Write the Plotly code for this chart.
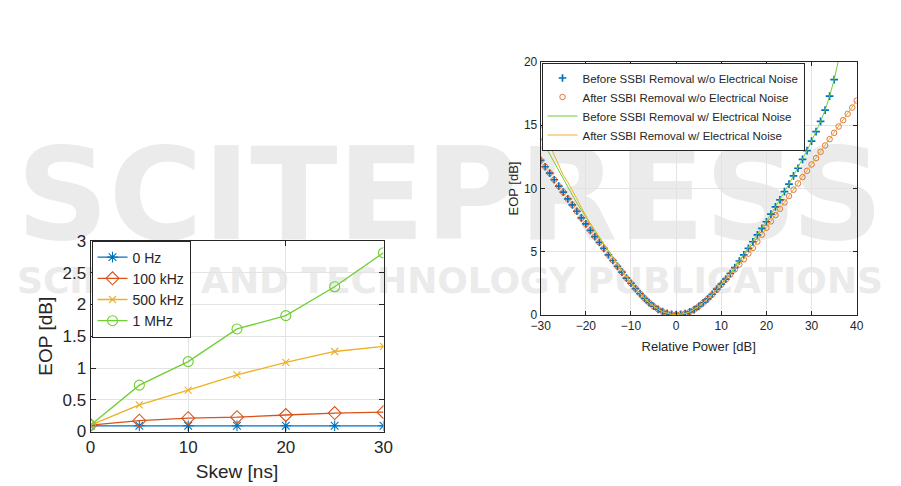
import plotly.graph_objects as go

# ---------------- Left chart: EOP vs skew ----------------
skew_ns = [0, 5, 10, 15, 20, 25, 30]
eop_0hz = [0.09, 0.09, 0.09, 0.09, 0.09, 0.09, 0.09]
eop_100khz = [0.10, 0.17, 0.21, 0.225, 0.26, 0.29, 0.305]
eop_500khz = [0.10, 0.42, 0.65, 0.89, 1.09, 1.26, 1.34]
eop_1mhz = [0.10, 0.73, 1.10, 1.615, 1.825, 2.28, 2.815]
left_names = ["0 Hz", "100 kHz", "500 kHz", "1 MHz"]

# ---------------- Right chart: EOP vs relative power ----------------
power_before = [-30, -29, -28, -27, -26, -25, -24, -23, -22, -21, -20, -19, -18, -17, -16,
                -15, -14, -13, -12, -11, -10, -9, -8, -7, -6, -5, -4, -3, -2, -1, 0,
                1, 2, 3, 4, 5, 6, 7, 8, 9, 10, 11, 12, 13, 14, 15, 16, 17, 18, 19, 20,
                21, 22, 23, 24, 25, 26, 27, 28, 29, 30, 31, 32, 33, 34, 35]
eop_before = [12.22, 11.72, 11.22, 10.69, 10.19, 9.71, 9.18, 8.70, 8.20, 7.67, 7.20, 6.69,
              6.19, 5.74, 5.26, 4.76, 4.31, 3.84, 3.39, 2.91, 2.51, 2.09, 1.69, 1.32, 0.98,
              0.69, 0.45, 0.26, 0.13, 0.05, 0.03,
              0.06, 0.12, 0.24, 0.43, 0.68, 0.97, 1.28, 1.64, 2.04, 2.44, 2.84, 3.28, 3.75,
              4.27, 4.75, 5.27, 5.79, 6.34, 6.85, 7.37, 7.97, 8.55, 9.10, 9.75, 10.35, 11.0,
              11.6, 12.3, 13.0, 13.75, 14.5, 15.3, 16.2, 17.3, 18.6]

power_after = [-30, -29, -28, -27, -26, -25, -24, -23, -22, -21, -20, -19, -18, -17, -16,
               -15, -14, -13, -12, -11, -10, -9, -8, -7, -6, -5, -4, -3, -2, -1, 0,
               1, 2, 3, 4, 5, 6, 7, 8, 9, 10, 11, 12, 13, 14, 15, 16, 17, 18, 19, 20,
               21, 22, 23, 24, 25, 26, 27, 28, 29, 30, 31, 32, 33, 34, 35, 36, 37, 38, 39, 40]
eop_after = [12.22, 11.72, 11.22, 10.69, 10.19, 9.71, 9.18, 8.70, 8.20, 7.67, 7.20, 6.69,
             6.19, 5.74, 5.26, 4.76, 4.31, 3.84, 3.39, 2.91, 2.51, 2.09, 1.69, 1.32, 0.98,
             0.69, 0.45, 0.26, 0.13, 0.05, 0.03,
             0.06, 0.12, 0.24, 0.43, 0.68, 0.97, 1.28, 1.62, 2.0, 2.4, 2.8, 3.2, 3.6, 4.0,
             4.4, 4.85, 5.3, 5.8, 6.35, 6.9, 7.4, 7.9, 8.4, 8.9, 9.4, 9.9, 10.4, 10.9, 11.4,
             11.9, 12.4, 12.9, 13.4, 13.9, 14.4, 14.9, 15.4, 15.9, 16.4, 16.95]

power_noise_before = power_before + [36]
eop_noise_before = [14.0, 13.35, 12.7, 12.05, 11.4, 10.75, 10.1, 9.45, 8.85, 8.3, 7.75, 7.2,
                    6.65, 6.1, 5.55, 5.0, 4.5, 4.0, 3.5, 3.0, 2.55, 2.1, 1.69, 1.32, 0.98,
                    0.69, 0.45, 0.26, 0.13, 0.05, 0.03,
                    0.06, 0.12, 0.24, 0.43, 0.68, 0.97, 1.28, 1.64, 2.04, 2.44, 2.84, 3.28,
                    3.75, 4.27, 4.75, 5.27, 5.79, 6.34, 6.85, 7.37, 7.97, 8.55, 9.10, 9.75,
                    10.35, 11.0, 11.6, 12.3, 13.0, 13.75, 14.5, 15.3, 16.2, 17.3, 18.6, 20.2]

power_noise_after = power_after
eop_noise_after = [15.0, 14.2, 13.4, 12.6, 11.8, 11.05, 10.5, 9.9, 9.2, 8.5, 7.8, 7.2,
                   6.65, 6.1, 5.55, 5.0, 4.5, 4.0, 3.5, 3.0, 2.55, 2.1, 1.69, 1.32, 0.98,
                   0.69, 0.45, 0.26, 0.13, 0.05, 0.03,
                   0.06, 0.12, 0.24, 0.43, 0.68, 0.97, 1.28, 1.62, 2.0, 2.4, 2.8, 3.2, 3.6,
                   4.0, 4.4, 4.85, 5.3, 5.8, 6.35, 6.9, 7.4, 7.9, 8.4, 8.9, 9.4, 9.9, 10.4,
                   10.9, 11.4, 11.9, 12.4, 12.9, 13.4, 13.9, 14.4, 14.9, 15.4, 15.9, 16.4, 16.95]
right_names = ["Before SSBI Removal w/o Electrical Noise",
               "After SSBI Removal w/o Electrical Noise",
               "Before SSBI Removal w/ Electrical Noise",
               "After SSBI Removal w/ Electrical Noise"]

watermark_title = "SCITEPRESS"
watermark_subtitle = "SCIENCE AND TECHNOLOGY PUBLICATIONS"

BLUE = "#0072BD"
ORANGE = "#D95319"
YELLOW = "#EDB120"
GREEN = "#6FCF33"
FONT = "Liberation Sans, Arial, sans-serif"

fig = go.Figure()

# left chart traces
left_series = [
    (eop_0hz, BLUE, "asterisk-open", 9),
    (eop_100khz, ORANGE, "diamond-open", 10),
    (eop_500khz, YELLOW, "x-thin-open", 7),
    (eop_1mhz, GREEN, "circle-open", 10),
]
for name, (vals, col, sym, sz) in zip(left_names, left_series):
    fig.add_trace(go.Scatter(
        x=skew_ns, y=vals, name=name, mode="lines+markers",
        line=dict(color=col, width=1.3),
        marker=dict(symbol=sym, size=sz, color=col, line=dict(color=col, width=1.1)),
        xaxis="x", yaxis="y", legend="legend"))

# right chart traces
fig.add_trace(go.Scatter(
    x=power_before, y=eop_before, name=right_names[0], mode="markers",
    marker=dict(symbol="cross-thin-open", size=5.5, color=BLUE, line=dict(color=BLUE, width=1.7)),
    xaxis="x2", yaxis="y2", legend="legend2"))
fig.add_trace(go.Scatter(
    x=power_after, y=eop_after, name=right_names[1], mode="markers",
    marker=dict(symbol="circle-open", size=5.5, color=ORANGE, line=dict(color=ORANGE, width=0.8)),
    xaxis="x2", yaxis="y2", legend="legend2"))
fig.add_trace(go.Scatter(
    x=power_noise_before, y=eop_noise_before, name=right_names[2], mode="lines",
    line=dict(color=GREEN, width=1), xaxis="x2", yaxis="y2", legend="legend2"))
fig.add_trace(go.Scatter(
    x=power_noise_after, y=eop_noise_after, name=right_names[3], mode="lines",
    line=dict(color=YELLOW, width=1), xaxis="x2", yaxis="y2", legend="legend2"))

W, H = 901, 486
OFF = 8  # page body margin of the browser
def px_x(p):
    return (p - OFF) / W
def px_y(p):
    return 1 - (p - OFF) / H

axis_common = dict(showline=True, linecolor="#262626", linewidth=1, mirror="ticks",
                   ticks="inside", tickcolor="#262626", showgrid=True,
                   gridcolor="#e3e3e3", gridwidth=1, zeroline=False, automargin=False)

fig.update_layout(
    width=W, height=H,
    margin=dict(l=0, r=0, t=0, b=0),
    paper_bgcolor="white", plot_bgcolor="rgba(0,0,0,0)",
    font=dict(family=FONT, color="#262626"),
    xaxis=dict(domain=[px_x(90.5), px_x(383.5)], range=[0, 30], tickvals=[0, 10, 20, 30],
               ticklen=5, tickfont=dict(size=17), anchor="y",
               title=dict(text="Skew [ns]", font=dict(size=19), standoff=8),
               **axis_common),
    yaxis=dict(domain=[px_y(431.5), px_y(241)], range=[0, 3],
               tickvals=[0, 0.5, 1, 1.5, 2, 2.5, 3],
               ticktext=["0", "0.5", "1", "1.5", "2", "2.5", "3"],
               ticklen=5, tickfont=dict(size=17), anchor="x",
               title=dict(text="EOP [dB]", font=dict(size=19), standoff=4),
               **axis_common),
    xaxis2=dict(domain=[px_x(540.7), px_x(856.7)], range=[-30, 40],
                tickvals=[-30, -20, -10, 0, 10, 20, 30, 40],
                ticklen=4, tickfont=dict(size=12), anchor="y2",
                title=dict(text="Relative Power [dB]", font=dict(size=13), standoff=9),
                **axis_common),
    yaxis2=dict(domain=[px_y(315), px_y(62)], range=[0, 20], tickvals=[0, 5, 10, 15, 20],
                ticklen=4, tickfont=dict(size=12), anchor="x2",
                title=dict(text="EOP [dB]", font=dict(size=13), standoff=2),
                **axis_common),
    legend=dict(x=px_x(91.5), y=px_y(240.5), xanchor="left", yanchor="top",
                bgcolor="white", bordercolor="#262626", borderwidth=1,
                font=dict(size=14, family=FONT), itemwidth=30,
                tracegroupgap=0),
    legend2=dict(x=px_x(541.5), y=px_y(62.5), xanchor="left", yanchor="top",
                 bgcolor="white", bordercolor="#262626", borderwidth=1,
                 font=dict(size=11.5, family=FONT), itemwidth=30,
                 traceorder="normal"),
    showlegend=True,
)

# faint publisher watermark behind the charts
WM_FONT = "DejaVu Sans, sans-serif"
fig.add_shape(type="rect", xref="paper", yref="paper",
              x0=px_x(5), x1=px_x(895), y0=px_y(230), y1=px_y(140),
              line=dict(width=0), fillcolor="rgba(0,0,0,0)", layer="below",
              label=dict(text="<b>" + watermark_title + "</b>",
                         font=dict(size=128, color="#ebebeb", family=WM_FONT)))
fig.add_shape(type="rect", xref="paper", yref="paper",
              x0=px_x(5), x1=px_x(895), y0=px_y(293), y1=px_y(261),
              line=dict(width=0), fillcolor="rgba(0,0,0,0)", layer="below",
              label=dict(text="<b>" + watermark_subtitle + "</b>",
                         font=dict(size=36, color="#ebebeb", family=WM_FONT)))

fig.write_html("out.html")
